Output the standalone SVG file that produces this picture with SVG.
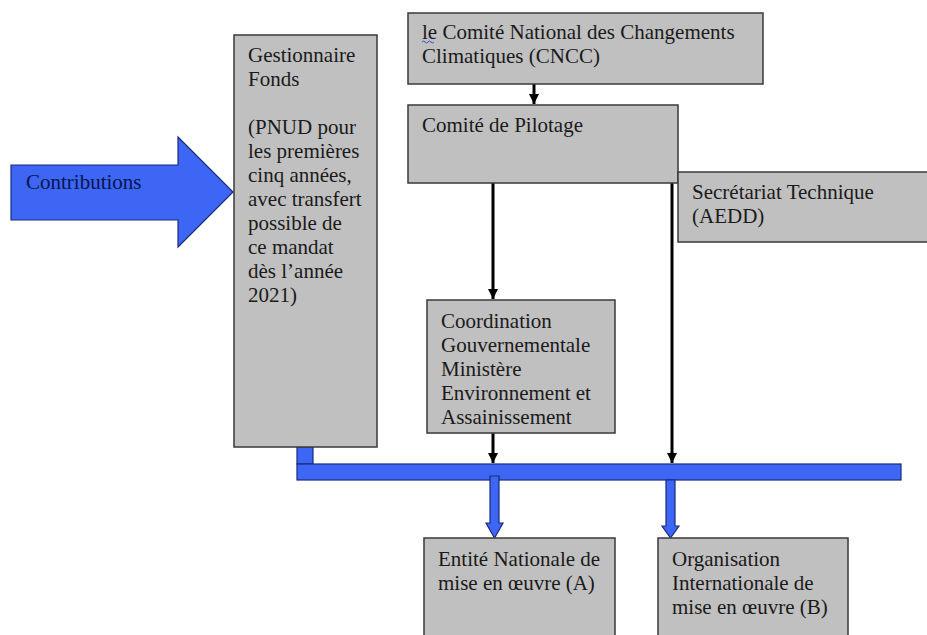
<svg xmlns="http://www.w3.org/2000/svg" width="927" height="635" viewBox="0 0 927 635">
<defs>
<marker id="ah" markerWidth="10" markerHeight="10" viewBox="0 0 10 10" refX="10" refY="5" orient="auto" markerUnits="userSpaceOnUse">
<path d="M0,0 L10,5 L0,10 Z" fill="#000"/>
</marker>
<style>
.box{fill:#c0c0c0;stroke:#3a3a3a;stroke-width:1.5}
.t{font-family:"Liberation Serif","Times New Roman",serif;font-size:21px;fill:#1a1a1a}
.blue{fill:#3d66f5;stroke:#1a2a7a;stroke-width:1.2}
.k{stroke:#000;stroke-width:3;fill:none}
</style>
</defs>
<rect width="927" height="635" fill="#fff"/>
<g id="connectors">
<path class="k" d="M534,84 V104" marker-end="url(#ah)"/>
<path class="k" d="M493,183 V299" marker-end="url(#ah)"/>
<path class="k" d="M672,183 V463" marker-end="url(#ah)"/>
<path class="k" d="M493,433 V463" marker-end="url(#ah)"/>
<path class="blue" d="M297,447 H313 V464 H297 Z"/>
<rect class="blue" x="297" y="464" width="604" height="16"/>
<path class="blue" d="M490,476 H499 V523 H503 L494.5,538 L486,523 H490 Z"/>
<path class="blue" d="M666,480 H675 V526 H679 L670.5,538 L662,526 H666 Z"/>
</g>
<g id="contributions">
<path class="blue" d="M11,165 H178 V137 L233,192 L178,247 V220 H11 Z"/>
<text class="t" x="26" y="189" style="fill:#0a1450">Contributions</text>
</g>
<g id="gestionnaire">
<rect class="box" x="234" y="35" width="143" height="412"/>
<text class="t" x="248" y="62">Gestionnaire</text>
<text class="t" x="248" y="86">Fonds</text>
<text class="t" x="248" y="134">(PNUD pour</text>
<text class="t" x="248" y="158">les premières</text>
<text class="t" x="248" y="182">cinq années,</text>
<text class="t" x="248" y="206">avec transfert</text>
<text class="t" x="248" y="230">possible de</text>
<text class="t" x="248" y="254">ce mandat</text>
<text class="t" x="248" y="278">dès l’année</text>
<text class="t" x="248" y="302">2021)</text>
</g>
<g id="cncc">
<rect class="box" x="408" y="13" width="355" height="71"/>
<text class="t" x="422" y="39">le Comité National des Changements</text>
<text class="t" x="422" y="63">Climatiques (CNCC)</text>
<path d="M422,42 q1.5,-2 3,0 t3,0 t3,0 t3,0" fill="none" stroke="#3a4fd0" stroke-width="1"/>
</g>
<g id="pilotage">
<rect class="box" x="408" y="105" width="270" height="78"/>
<text class="t" x="422" y="132">Comité de Pilotage</text>
</g>
<g id="secretariat">
<rect class="box" x="678" y="172" width="250" height="70"/>
<text class="t" x="692" y="199">Secrétariat Technique</text>
<text class="t" x="692" y="223">(AEDD)</text>
</g>
<g id="coordination">
<rect class="box" x="427" y="300" width="188" height="133"/>
<text class="t" x="441" y="328">Coordination</text>
<text class="t" x="441" y="352">Gouvernementale</text>
<text class="t" x="441" y="376">Ministère</text>
<text class="t" x="441" y="400">Environnement et</text>
<text class="t" x="441" y="424">Assainissement</text>
</g>
<g id="entite">
<rect class="box" x="424" y="538" width="191" height="100"/>
<text class="t" x="438" y="566">Entité Nationale de</text>
<text class="t" x="438" y="590">mise en œuvre (A)</text>
</g>
<g id="organisation">
<rect class="box" x="658" y="538" width="190" height="100"/>
<text class="t" x="672" y="566">Organisation</text>
<text class="t" x="672" y="590">Internationale de</text>
<text class="t" x="672" y="614">mise en œuvre (B)</text>
</g>
</svg>
